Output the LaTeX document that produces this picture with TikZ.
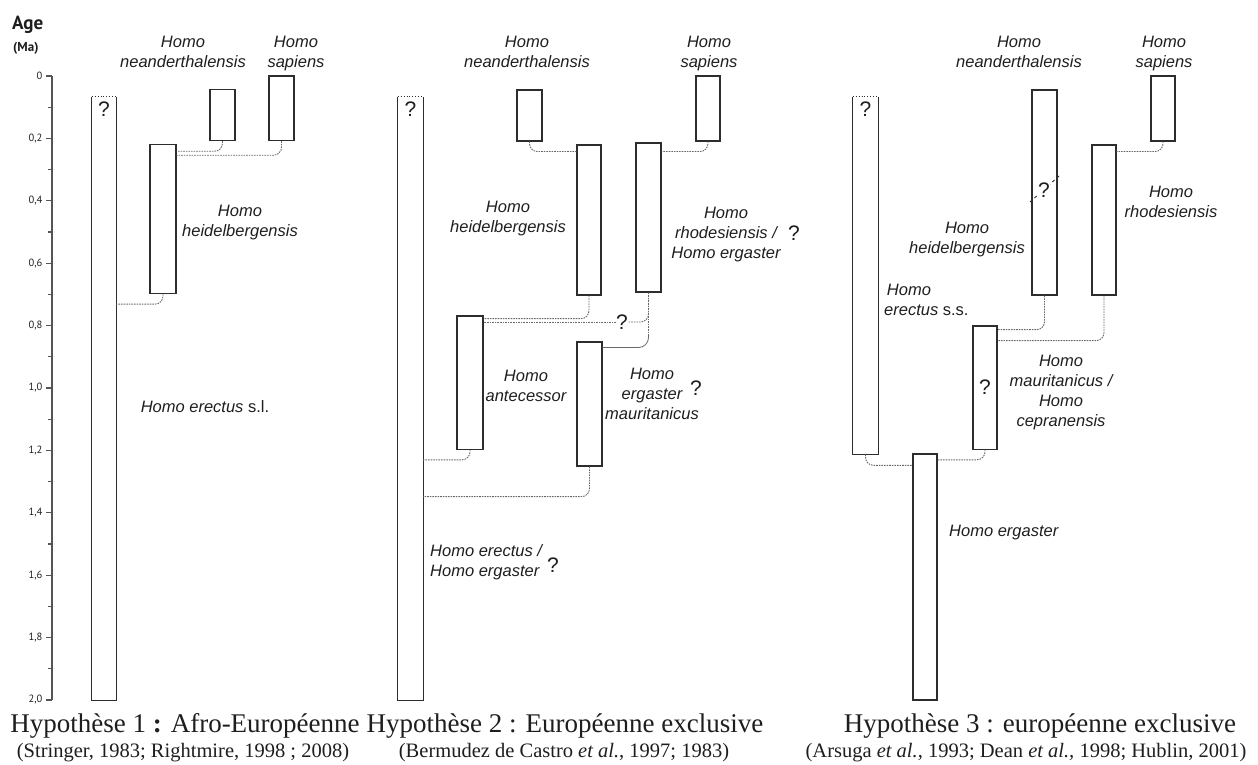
\documentclass[tikz,border=0pt]{standalone}
\usepackage{fontspec}
\setmainfont{Liberation Serif}
\newfontfamily\labelfont{Liberation Sans}
\newfontfamily\axisfont{PT Sans}
\usetikzlibrary{positioning, fit, calc}
\definecolor{barcol}{RGB}{45,45,45}
\definecolor{linkgray}{RGB}{105,105,105}
\definecolor{axisgray}{RGB}{85,85,85}
\definecolor{textcol}{RGB}{30,30,30}

\begin{document}
\begin{tikzpicture}[x=1pt, y=-1pt, text=textcol,
  barline/.style={draw=barcol, line width=1.3pt},
  taxon/.style={barline, fill=white, inner sep=0pt},
  openbar/.style={inner sep=0pt},
  link/.style={draw=linkgray, line width=0.9pt, dash pattern=on 1.6pt off 1pt, rounded corners=8pt},
  axisline/.style={draw=axisgray, line width=1.1pt},
  axislab/.style={font=\axisfont\fontsize{10.5}{11}\selectfont, inner sep=0pt},
  taxname/.style={font=\labelfont\itshape\fontsize{16.5}{20}\selectfont, align=center, inner sep=0pt, text depth=4pt},
  qmark/.style={font=\labelfont\fontsize{21}{21}\selectfont, inner sep=0pt},
  hyp/.style={font=\fontsize{27}{30}\selectfont, anchor=base, inner sep=0pt},
  cite/.style={font=\fontsize{20.5}{24}\selectfont, anchor=base, inner sep=0pt}]
  \useasboundingbox (0,0) rectangle (1258,765);

  % time axis
  \node[font=\axisfont\bfseries\fontsize{19}{19}\selectfont, anchor=base west, inner sep=0pt] (age) at (12,30) {Age};
  \node[font=\axisfont\bfseries\fontsize{13}{13}\selectfont, anchor=base west, inner sep=0pt] (ma) at (13,52) {(Ma)};
  \begin{scope}[shift={(0,76)}, y=-312pt]
    \draw[axisline, line width=1.6pt] (52,0) -- (52,2);
    \foreach \t/\lab [count=\i] in {0/0, 0.2/{0,2}, 0.4/{0,4}, 0.6/{0,6}, 0.8/{0,8}, 1/{1,0},
                                   1.2/{1,2}, 1.4/{1,4}, 1.6/{1,6}, 1.8/{1,8}, 2/{2,0}}
      \draw[axisline] (52,\t) -- (46,\t) node[axislab, left=3pt] (tick\i) {\lab};
    \foreach \t in {0.1,0.3,...,1.9}
      \draw[axisline] (52,\t) -- (48,\t);

    % hypothesis 1
    \node[openbar, fit={(92,0.067) (116,2)}] (ere1) {};
    \node[taxon, fit={(150,0.219) (176,0.697)}] (hei1) {};
    \node[taxon, fit={(210,0.043) (235,0.207)}] (nea1) {};
    \node[taxon, fit={(269,0) (294,0.207)}] (sap1) {};
    % hypothesis 2
    \node[openbar, fit={(398,0.067) (423,2)}] (ere2) {};
    \node[taxon, fit={(517,0.045) (542,0.208)}] (nea2) {};
    \node[taxon, fit={(577,0.221) (601,0.702)}] (hei2) {};
    \node[taxon, fit={(636,0.215) (661,0.692)}] (rho2) {};
    \node[taxon, fit={(696,0) (720,0.208)}] (sap2) {};
    \node[taxon, fit={(457,0.769) (483,1.196)}] (ant2) {};
    \node[taxon, fit={(577,0.853) (602,1.25)}] (mau2) {};
    % hypothesis 3
    \node[openbar, fit={(853,0.067) (878,1.212)}] (ere3) {};
    \node[taxon, fit={(1032,0.045) (1057,0.702)}] (nea3) {};
    \node[taxon, fit={(1092,0.221) (1116,0.702)}] (rho3) {};
    \node[taxon, fit={(1151,0) (1175,0.208)}] (sap3) {};
    \node[taxon, fit={(973,0.801) (997,1.196)}] (mau3) {};
    \node[taxon, fit={(913,1.212) (937,2)}] (erg3) {};
  \end{scope}

  % long bars, open at the top
  \foreach \b in {ere1, ere2, ere3} {
    \draw[barline] (\b.north west) -- (\b.south west) -- (\b.south east) -- (\b.north east);
    \draw[draw=barcol, line width=0.9pt, dotted] (\b.north west) -- (\b.north east);
  }
  \node[qmark, below=5pt of ere1.north] (q1) {?};
  \node[qmark, below=5pt of ere2.north] (q2) {?};
  \node[qmark, below=5pt of ere3.north] (q3) {?};

  % links, hypothesis 1
  \draw[link] (nea1.south) |- ($(nea1.south -| hei1.east)+(0,10)$);
  \draw[link] (sap1.south) |- ($(sap1.south -| hei1.east)+(0,14)$);
  \draw[link] (hei1.south) |- ($(hei1.south -| ere1.east)+(0,10)$);

  % links, hypothesis 2
  \node[qmark] (q7) at (622,322) {?};
  \draw[link] (nea2.south) |- ($(nea2.south -| hei2.west)+(0,10)$);
  \draw[link] (sap2.south) |- ($(sap2.south -| rho2.east)+(0,10)$);
  \draw[link] (hei2.south) |- ($(hei2.south -| ant2.east)+(0,23)$);
  \draw[link] (rho2.south) |- (q7.east);
  \draw[link] (q7.west) -- (q7.west -| ant2.east);
  \draw[link] (rho2.south) -- ++(0,42) coordinate (r2k);
  \draw[draw=linkgray, line width=0.8pt, rounded corners=10pt] (r2k) |- ($(r2k -| mau2.east)+(0,13)$);
  \draw[link] (ant2.south) |- ($(ant2.south -| ere2.east)+(0,10)$);
  \draw[link] (mau2.south) |- ($(mau2.south -| ere2.east)+(0,30)$);

  % links, hypothesis 3
  \draw[link] (sap3.south) |- ($(sap3.south -| rho3.east)+(0,10)$);
  \draw[link] (nea3.south) |- ($(nea3.south -| mau3.east)+(0,34)$);
  \draw[link] (rho3.south) |- ($(rho3.south -| mau3.east)+(0,45)$);
  \draw[link] (ere3.south) |- ($(ere3.south -| erg3.west)+(0,11)$);
  \draw[link] (mau3.south) |- ($(mau3.south -| erg3.east)+(0,10)$);

  % names, hypothesis 1
  \node[taxname] (lnea1) at (183,54) {Homo\\neanderthalensis};
  \node[taxname] (lsap1) at (296,54) {Homo\\sapiens};
  \node[taxname] (lhei1) at (240,223) {Homo\\heidelbergensis};
  \node[taxname] (lere1) at (205,409) {Homo erectus \textup{s.l.}};

  % names, hypothesis 2
  \node[taxname] (lnea2) at (527,54) {Homo\\neanderthalensis};
  \node[taxname] (lsap2) at (709,54) {Homo\\sapiens};
  \node[taxname] (lhei2) at (508,219) {Homo\\heidelbergensis};
  \node[taxname] (lrho2) at (726,235) {Homo\\rhodesiensis /\\Homo ergaster};
  \node[qmark] (q4) at (794,233) {?};
  \node[taxname] (lant2) at (526,388) {Homo\\antecessor};
  \node[taxname] (lmau2) at (652,396) {Homo\\ergaster\\mauritanicus};
  \node[qmark] (q5) at (696,388) {?};
  \node[taxname, align=left, anchor=west] (lere2) at (430,563) {Homo erectus /\\Homo ergaster};
  \node[qmark] (q6) at (553,565) {?};

  % names, hypothesis 3
  \node[taxname] (lnea3) at (1019,54) {Homo\\neanderthalensis};
  \node[taxname] (lsap3) at (1164,54) {Homo\\sapiens};
  \node[taxname] (lrho3) at (1171,204) {Homo\\rhodesiensis};
  \node[taxname] (lhei3) at (967,240) {Homo\\heidelbergensis};
  \node[taxname, align=left, anchor=west] (lere3) at (884,302) {\,Homo\\erectus \textup{s.s.}};
  \node[taxname] (lmau3) at (1061,393) {Homo\\mauritanicus /\\Homo\\cepranensis};
  \node[taxname, anchor=west] (lerg3) at (949,533) {Homo ergaster};
  \node[qmark] (q8) at (mau3) {?};
  \draw[draw=barcol, line width=0.9pt, dashed] (1030,202) -- (1059,176);
  \node[qmark, fill=white, inner sep=0.5pt] (q9) at (1044,190) {?};

  % captions
  \node[hyp] (h1) at (185,732) {Hypothèse 1 \textbf{:} Afro-Européenne};
  \node[cite] (c1) at (183,757) {(Stringer, 1983; Rightmire, 1998 ; 2008)};
  \node[hyp] (h2) at (565,732) {Hypothèse 2 : Européenne exclusive};
  \node[cite] (c2) at (564,757) {(Bermudez de Castro \textit{et al.}, 1997; 1983)};
  \node[hyp] (h3) at (1040,732) {Hypothèse 3 : européenne exclusive};
  \node[cite] (c3) at (1026,757) {(Arsuga \textit{et al.}, 1993; Dean \textit{et al.,} 1998; Hublin, 2001)};
\end{tikzpicture}
\end{document}
